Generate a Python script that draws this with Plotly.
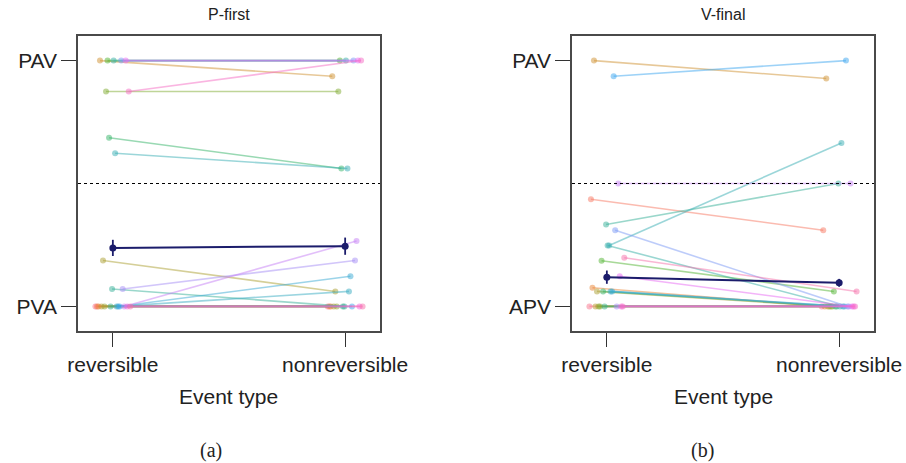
import math
import plotly.graph_objects as go

# ---------------- data ----------------
categories = ["reversible", "nonreversible"]
y_tick_labels_a = ["PVA", "PAV"]
y_tick_labels_b = ["APV", "PAV"]
panel_titles = ["P-first", "V-final"]
captions = ["(a)", "(b)"]
x_title = "Event type"

# per-subject proportions (index = subject / hue order)
a_reversible = [0, 0, 0, 1.0, 0, 0.187, 0, 0.874, 1.0, 0.686, 0, 0.071,
                1.0, 0.623, 0, 0, 0, 1.0, 0.071, 0, 1.0, 0, 0.874, 0]
a_nonreversible = [0, 0, 0, 0.936, 0, 0.061, 0, 0.874, 1.0, 0.561, 0, 0,
                   1.0, 0.561, 0.061, 0.123, 0, 1.0, 0.187, 0.266, 1.0, 0, 1.0, 0]
a_mean = [0.238, 0.245]
a_err = [0.033, 0.035]

b_reversible = [0, 0.436, 0.076, 1.0, 0, 0.061, 0, 0, 0.186, 0.061, 0, 0.333,
                0.248, 0.248, 0.061, 0.061, 0.936, 0.31, 0, 0.5, 0.123, 0, 0, 0.198]
b_nonreversible = [0, 0.31, 0, 0.927, 0, 0, 0, 0, 0.061, 0, 0, 0.5,
                   0, 0.665, 0, 0, 1.0, 0, 0, 0.5, 0, 0, 0, 0.061]
b_mean = [0.119, 0.096]
b_err = [0.027, 0.016]

# ---------------- husl palette (seaborn) ----------------
M = [[3.2406, -1.5372, -0.4986], [-0.9689, 1.8758, 0.0415], [0.0557, -0.2040, 1.0570]]
refU, refV = 0.19784, 0.46834


def max_chroma(L, H):
    hrad = math.radians(H)
    sinH, cosH = math.sin(hrad), math.cos(hrad)
    sub1 = (L + 16) ** 3 / 1560896.0
    sub2 = sub1 if sub1 > 0.008856 else L / 903.3
    res = float("inf")
    for m1, m2, m3 in M:
        top = (0.99915 * m1 + 1.05122 * m2 + 1.14460 * m3) * sub2
        rb = 0.86330 * m3 - 0.17266 * m2
        lb = 0.12949 * m3 - 0.38848 * m1
        bottom = (rb * sinH + lb * cosH) * sub2
        for t in (0.0, 1.0):
            C = L * (top - 1.05122 * t) / (bottom + 0.17266 * sinH * t)
            if 0 < C < res:
                res = C
    return res


def husl_to_rgb(H, S, L):
    C = max_chroma(L, H) / 100.0 * S
    hr = math.radians(H)
    U, V = math.cos(hr) * C, math.sin(hr) * C
    t = (L + 16) / 116.0
    Y = t ** 3 if t ** 3 > 0.008856 else (116 * t - 16) / 903.3
    vu = U / (13 * L) + refU
    vv = V / (13 * L) + refV
    X = -(9 * Y * vu) / ((vu - 4) * vv - vu * vv)
    Z = (9 * Y - 15 * vv * Y - vv * X) / (3 * vv)
    out = []
    for row in M:
        c = row[0] * X + row[1] * Y + row[2] * Z
        c = 12.92 * c if c <= 0.0031308 else 1.055 * c ** (1 / 2.4) - 0.055
        out.append(min(1, max(0, c)))
    return out


def husl_palette(n, h=0.01, s=0.9, l=0.65):
    cols = []
    for i in range(n):
        hue = ((i / n + h) % 1) * 359
        cols.append(husl_to_rgb(hue, s * 99, l * 100))
    return cols


N = len(a_reversible)
palette = husl_palette(N)
dodge = 0.15


def rgba(c, a):
    return "rgba(%d,%d,%d,%.2f)" % (round(c[0] * 255), round(c[1] * 255), round(c[2] * 255), a)


fig = go.Figure()
panels = [
    (a_reversible, a_nonreversible, a_mean, a_err, "x", "y"),
    (b_reversible, b_nonreversible, b_mean, b_err, "x2", "y2"),
]
navy = "#1b1c6b"
for rev, nonrev, mean, err, xa, ya in panels:
    fig.add_shape(type="line", xref=xa, yref=ya, x0=-0.15, x1=1.15, y0=0.5, y1=0.5,
                  line=dict(color="black", width=1, dash="dot"), layer="above")
    for i in range(N):
        off = -dodge / 2 + dodge * i / (N - 1)
        col = palette[i]
        fig.add_trace(go.Scatter(
            x=[0 + off, 1 + off], y=[rev[i], nonrev[i]], xaxis=xa, yaxis=ya,
            mode="lines+markers",
            line=dict(color=rgba(col, 0.5), width=1.6),
            marker=dict(color=rgba(col, 0.5), size=6),
            showlegend=False, hoverinfo="skip"))
    fig.add_trace(go.Scatter(
        x=[0, 1], y=mean, xaxis=xa, yaxis=ya, mode="lines+markers",
        line=dict(color=navy, width=2), marker=dict(color=navy, size=7),
        error_y=dict(type="data", array=err, color=navy, thickness=1.8, width=0),
        showlegend=False))

dom1 = [78 / 906, 380 / 906]
dom2 = [572 / 906, 874 / 906]
ydom = [1 - 331 / 463, 1 - 36 / 463]

axis_common = dict(showline=True, mirror=True, linecolor="#4a4a4a", linewidth=1.5,
                   showgrid=False, zeroline=False, ticks="outside", automargin=False,
                   tickcolor="#333", tickwidth=1.2,
                   tickfont=dict(family="Liberation Sans, Arial, sans-serif", size=21, color="#222"))

fig.update_layout(
    template="none",
    width=906, height=463, margin=dict(l=0, r=0, t=0, b=0),
    plot_bgcolor="white", paper_bgcolor="white",
    xaxis=dict(domain=dom1, range=[-0.15, 1.15], tickvals=[0, 1], ticktext=categories,
               ticklen=14, anchor="y", **axis_common),
    yaxis=dict(domain=ydom, range=[-0.1, 1.1], tickvals=[0, 1], ticktext=y_tick_labels_a,
               ticklen=15, anchor="x", **axis_common),
    xaxis2=dict(domain=dom2, range=[-0.15, 1.15], tickvals=[0, 1], ticktext=categories,
                ticklen=14, anchor="y2", **axis_common),
    yaxis2=dict(domain=ydom, range=[-0.1, 1.1], tickvals=[0, 1], ticktext=y_tick_labels_b,
                ticklen=15, anchor="x2", **axis_common),
)

ann = []
for dom, title, cap, capx in [(dom1, panel_titles[0], captions[0], 211 / 906),
                              (dom2, panel_titles[1], captions[1], 702 / 906)]:
    cx = (dom[0] + dom[1]) / 2
    ann.append(dict(text=title, x=cx, y=1 - 15 / 463, xref="paper", yref="paper",
                    showarrow=False, xanchor="center", yanchor="middle",
                    font=dict(family="Liberation Sans, Arial, sans-serif", size=16, color="#222")))
    ann.append(dict(text=x_title, x=cx, y=1 - 396 / 463, xref="paper", yref="paper",
                    showarrow=False, xanchor="center", yanchor="middle",
                    font=dict(family="Liberation Sans, Arial, sans-serif", size=21, color="#222")))
    ann.append(dict(text=cap, x=capx, y=1 - 450 / 463, xref="paper", yref="paper",
                    showarrow=False, xanchor="center", yanchor="middle",
                    font=dict(family="Liberation Serif, DejaVu Serif, serif", size=20, color="#222")))
fig.update_layout(annotations=ann)

fig.write_html("out.html")
